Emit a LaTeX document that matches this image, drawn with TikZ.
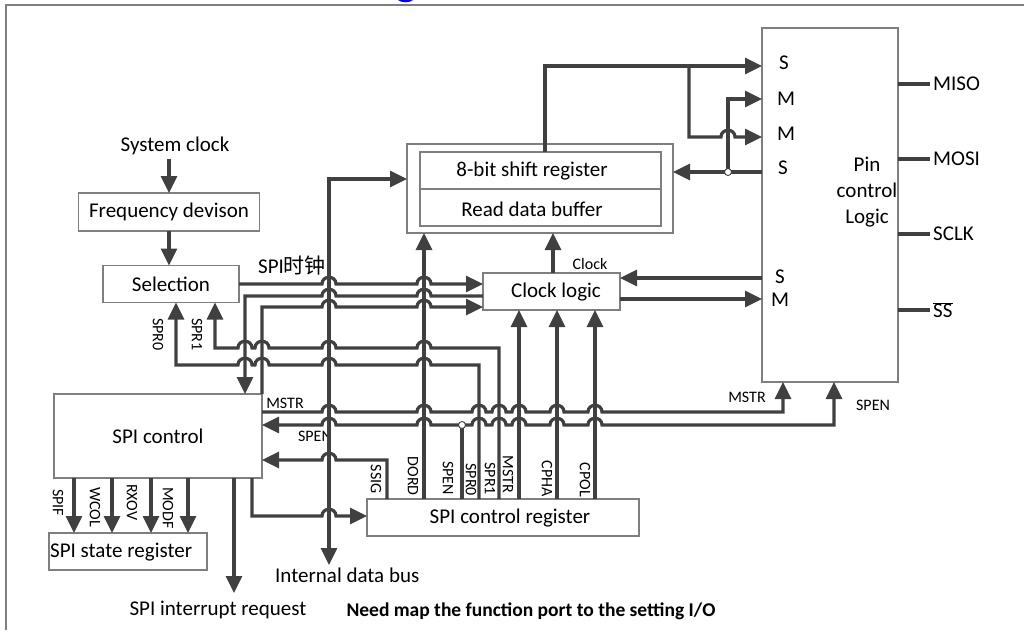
\documentclass[tikz,border=0pt]{standalone}
\usepackage{fontspec}
\setmainfont{Carlito}
\newfontfamily\cjk{Noto Sans CJK SC}
\usetikzlibrary{arrows.meta}
\definecolor{wirec}{HTML}{404040}
\definecolor{boxc}{HTML}{7F7F7F}
\newcommand\fA{\fontsize{21}{26}\selectfont}
\newcommand\fB{\fontsize{16}{19}\selectfont}
\newcommand\fC{\fontsize{19.5}{23}\selectfont\bfseries}
\newcommand\hr[2]{-- ({#1-7},#2) .. controls ({#1-7},{#2-9}) and ({#1+7},{#2-9}) .. ({#1+7},#2)}
\begin{document}
\begin{tikzpicture}[x=1pt,y=-1pt,
  wire/.style={draw=wirec,line width=3.2pt},
  >={Triangle[length=17pt,width=16pt]},
  box/.style={draw=boxc,line width=1.4pt,outer sep=0pt,inner sep=0pt,font=\fA},
  txt/.style={inner sep=0pt,font=\fA},
  sm/.style={inner sep=0pt,font=\fB},
  jn/.style={draw=wirec,line width=0.9pt,fill=white,circle,inner sep=0pt,minimum size=7pt}]
\useasboundingbox (0,0) rectangle (1024,630);
% frame
\draw[boxc,line width=2pt] (6,630) -- (6,5) -- (1024,5);
\fill[blue] (398,0) .. controls (401,3) and (410,3) .. (413,0) -- cycle;
% boxes
\node[txt] (sysclk) at (175,146) {System clock};
\node[box,minimum width=181pt,minimum height=38pt] (freq) at (169,212) {Frequency devison};
\node[box,minimum width=136pt,minimum height=37pt] (sel) at (171,284) {Selection};
\node[box,minimum width=266pt,minimum height=89pt] (shout) at (540,188.5) {};
\node[box,minimum width=241pt,minimum height=37pt] (shtop) at (540.5,170.5) {};
\node[box,minimum width=241pt,minimum height=37pt] (shbot) at (540.5,207.5) {};
\node[txt] (shtopt) at (532,171) {8-bit shift register};
\node[txt] (shbott) at (532,209) {Read data buffer};
\node[box,minimum width=137pt,minimum height=37pt] (clk) at (551.5,291.5) {};
\node[txt] (clkt) at (556,292) {Clock logic};
\node[box,minimum width=136pt,minimum height=354pt] (pin) at (830,205) {};
\node[txt,align=center] (pint) at (867,192) {Pin\\control\\Logic};
\node[box,minimum width=208pt,minimum height=84pt] (spic) at (158,436) {SPI control};
\node[box,minimum width=272pt,minimum height=37pt] (reg) at (503,517.5) {};
\node[txt] (regt) at (510,518) {SPI control register};
\node[box,minimum width=158pt,minimum height=37pt] (state) at (128,551.5) {};
\node[txt,anchor=west] (statet) at (50,552) {SPI state register};
% pin labels
\node[txt] (ps1) at (784,63) {S};
\node[txt] (pm1) at (786,99) {M};
\node[txt] (pm2) at (786,134) {M};
\node[txt] (ps2) at (783,168) {S};
\node[txt] (ps3) at (780,277) {S};
\node[txt] (pm3) at (780,300) {M};
% right pins
\foreach \yy/\nm/\tt in {84/miso/MISO,159/mosi/MOSI,234/sclk/SCLK,310/ss/{$\overline{\hbox{SS}}$}} {
  \node[txt,anchor=west] (\nm) at (933,\yy) {\tt};
  \draw[wire] (pin.east |- 0,\yy) -- ([xshift=-3pt]\nm.west);
}
% texts
\node[txt,anchor=west] (spiclk) at (258,266) {SPI{\cjk 时钟}};
\node[sm] (clocklbl) at (590,264) {Clock};
\node[txt,anchor=west] (busl) at (275,575) {Internal data bus};
\node[txt] (irql) at (218,610) {SPI interrupt request};
\node[inner sep=0pt,font=\fC] (note) at (531,611) {Need map the function port to the setting I/O};
\node[sm] (mstrl) at (285,403) {MSTR};
\node[sm] (spenl) at (315,436) {SPEN};
\node[sm] (mstrr) at (747,397) {MSTR};
\node[sm] (spenr) at (873,405) {SPEN};
\node[sm,rotate=-90,anchor=west] (spr0l) at (158,318) {SPR0};
\node[sm,rotate=-90,anchor=west] (spr1l) at (197,318) {SPR1};
\node[sm,rotate=-90,anchor=west] (spifl) at (58,489) {SPIF};
\node[sm,rotate=-90,anchor=west] (wcoll) at (95,487) {WCOL};
\node[sm,rotate=-90,anchor=west] (rxovl) at (132,484) {RXOV};
\node[sm,rotate=-90,anchor=west] (modfl) at (168,487) {MODF};
\foreach \xx/\yy/\tt in {376/494/SSIG,413/496/DORD,448/495/SPEN,471/496/SPR0,490/495/SPR1,508/493/MSTR,547/497/CPHA,585/497/CPOL}
  \node[sm,rotate=-90,anchor=east] (r\tt) at (\xx,\yy) {\tt};
\coordinate (busend) at (329,565);
\coordinate (irq) at (234,593);
% wires
\draw[wire,->] (freq.north |- sysclk.south) ++(0,4) -- (freq.north);
\draw[wire,->] (freq.south) -- (freq.south |- sel.north);
\draw[wire,->] (sel.east) \hr{329}{284} \hr{424}{284} -- (clk.west |- 0,284);
\draw[wire,<-] (spic.north -| 245,0) -- (245,296) \hr{329}{296} \hr{424}{296} -- (clk.west |- 0,296);
\draw[wire,->] (spic.north east) -- (262,307) \hr{329}{307} \hr{424}{307} -- (clk.west |- 0,307);
\draw[wire,<->] (busend) -- (329,179) -- (shout.west |- 0,179);
\draw[wire,->] (reg.north -| 424,0) -- (shout.south -| 424,0);
\draw[wire,->] (clk.north -| 553,0) -- (shout.south -| 553,0);
\draw[wire,<-] (sel.south -| 215,0) -- (215,348) \hr{245}{348}\hr{262}{348}\hr{329}{348}\hr{424}{348} -- (499,348) -- (reg.north -| 499,0);
\draw[wire,<-] (sel.south -| 176,0) -- (176,365) \hr{245}{365}\hr{262}{365}\hr{329}{365}\hr{424}{365} -- (479,365) -- (reg.north -| 479,0);
\draw[wire,->] (spic.east |- 0,412) \hr{329}{412}\hr{424}{412}\hr{479}{412}\hr{499}{412}\hr{519}{412}\hr{557}{412}\hr{595}{412} -- (783,412) -- (pin.south -| 783,0);
\draw[wire,<->] (spic.east |- 0,425) \hr{329}{425}\hr{424}{425}\hr{479}{425}\hr{499}{425}\hr{519}{425}\hr{557}{425}\hr{595}{425} -- (834,425) -- (pin.south -| 834,0);
\draw[wire] (reg.north -| 462,0) -- (462,425);
\node[jn] (j1) at (462,425) {};
\draw[wire,<-] (spic.east |- 0,460) \hr{329}{460} -- (387,460) -- (reg.north -| 387,0);
\draw[wire,->] (spic.south -| 252,0) -- (252,516) \hr{329}{516} -- (reg.west |- 0,516);
\foreach \xx in {519,557,595} \draw[wire,->] (reg.north -| \xx,0) -- (clk.south -| \xx,0);
\draw[wire,->] (shtop.north -| 545,0) -- (545,66) -- (pin.west |- 0,66);
\draw[wire,->] (689,66) -- (689,137) \hr{728}{137} -- (pin.west |- 0,137);
\draw[wire,->] (728,172) -- (728,99) -- (pin.west |- 0,99);
\draw[wire,->] (pin.west |- 0,172) -- (shout.east |- 0,172);
\node[jn] (j2) at (728,172) {};
\draw[wire,->] (pin.west |- 0,278) -- (clk.east |- 0,278);
\draw[wire,->] (clk.east |- 0,299) -- (pin.west |- 0,299);
\foreach \xx in {74,112,151,188} \draw[wire,->] (spic.south -| \xx,0) -- (state.north -| \xx,0);
\draw[wire,->] (spic.south -| 234,0) -- (irq);
\end{tikzpicture}
\end{document}
